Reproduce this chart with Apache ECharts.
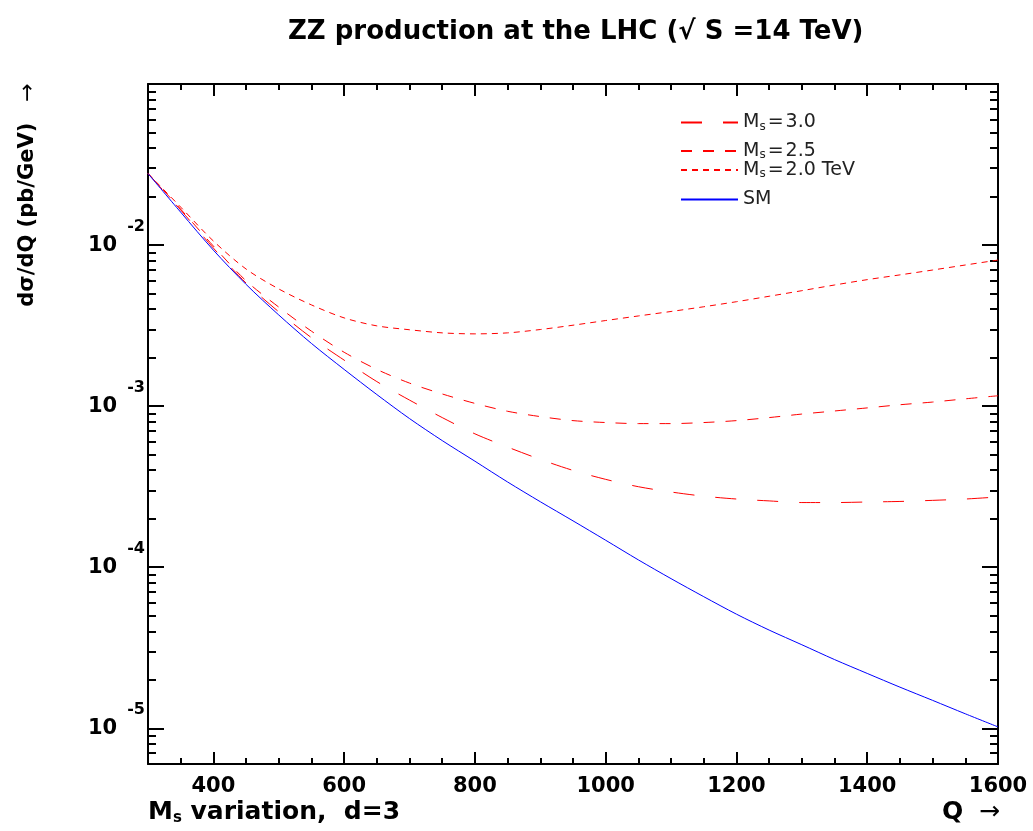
<!DOCTYPE html>
<html>
  <head>
    <title>ZZ production at the LHC</title>
    <meta charset="utf-8" />
    <script src="https://cdn.jsdelivr.net/npm/echarts@6.0.0/dist/echarts.min.js"></script>
    <style>
      body { margin: 0; background: #fff; }
    </style>
  </head>
  <body>
    <div id="main" style="width: 1033px;height:831px;"></div>
    <script type="text/javascript">
    // Q in GeV
    var qValues = [300, 350, 400, 450, 500, 550, 600, 650, 700, 750, 800, 850, 900, 950,
                   1000, 1050, 1100, 1150, 1200, 1250, 1300, 1350, 1400, 1450, 1500, 1550, 1600];

    // d(sigma)/dQ in pb/GeV
    var smValues = [0.0278, 0.0160, 9.3e-3, 5.7e-3, 3.68e-3, 2.45e-3, 1.69e-3, 1.18e-3, 8.37e-4,
                    6.11e-4, 4.55e-4, 3.38e-4, 2.55e-4, 1.94e-4, 1.47e-4, 1.11e-4, 8.49e-5, 6.56e-5,
                    5.11e-5, 4.07e-5, 3.30e-5, 2.67e-5, 2.19e-5, 1.80e-5, 1.49e-5, 1.23e-5, 1.02e-5];
    var ms30Values = [0.0278, 0.0165, 9.58e-3, 5.81e-3, 3.85e-3, 2.66e-3, 1.93e-3, 1.42e-3, 1.09e-3,
                      8.49e-4, 6.73e-4, 5.57e-4, 4.67e-4, 3.99e-4, 3.51e-4, 3.16e-4, 2.93e-4, 2.76e-4,
                      2.65e-4, 2.58e-4, 2.52e-4, 2.52e-4, 2.54e-4, 2.56e-4, 2.60e-4, 2.65e-4, 2.73e-4];
    var ms25Values = [0.0278, 0.0167, 9.86e-3, 6.0e-3, 4.12e-3, 2.92e-3, 2.16e-3, 1.69e-3, 1.39e-3,
                      1.19e-3, 1.04e-3, 9.29e-4, 8.61e-4, 8.13e-4, 7.91e-4, 7.79e-4, 7.79e-4, 7.91e-4,
                      8.13e-4, 8.49e-4, 8.93e-4, 9.33e-4, 9.75e-4, 1.02e-3, 1.06e-3, 1.11e-3, 1.16e-3];
    var ms20Values = [0.0278, 0.0172, 0.0106, 7.10e-3, 5.34e-3, 4.25e-3, 3.53e-3, 3.15e-3, 2.98e-3,
                      2.85e-3, 2.81e-3, 2.85e-3, 2.99e-3, 3.18e-3, 3.40e-3, 3.63e-3, 3.87e-3, 4.14e-3,
                      4.45e-3, 4.81e-3, 5.21e-3, 5.65e-3, 6.10e-3, 6.53e-3, 7.00e-3, 7.52e-3, 8.07e-3];

    var seriesNames = ['M_s=3.0', 'M_s=2.5', 'M_s=2.0 TeV', 'SM'];

    // ticks
    var xLabelTicks = [400, 600, 800, 1000, 1200, 1400, 1600];
    var xMajorTicks = [400, 600, 800, 1000, 1200, 1400, 1600];
    var xMinorTicks = [350, 450, 500, 550, 650, 700, 750, 850, 900, 950, 1050, 1100, 1150,
                       1250, 1300, 1350, 1450, 1500, 1550];
    var yMajorTicks = [1e-5, 1e-4, 1e-3, 1e-2];
    var yTickExponents = ['-5', '-4', '-3', '-2'];
    var yMinorTicks = [7e-6, 8e-6, 9e-6,
                       2e-5, 3e-5, 4e-5, 5e-5, 6e-5, 7e-5, 8e-5, 9e-5,
                       2e-4, 3e-4, 4e-4, 5e-4, 6e-4, 7e-4, 8e-4, 9e-4,
                       2e-3, 3e-3, 4e-3, 5e-3, 6e-3, 7e-3, 8e-3, 9e-3,
                       0.02, 0.03, 0.04, 0.05, 0.06, 0.07, 0.08, 0.09];

    var font = 'DejaVu Sans';
    var black = { color: '#000', width: 2 };

    function toPairs(values) {
      return qValues.map(function (q, i) { return [q, values[i]]; });
    }

    function xAxisDef(position, ticks, len, line, labels) {
      return {
        type: 'value', position: position, min: 300, max: 1600,
        axisLine: { show: line, onZero: false, lineStyle: black },
        axisTick: { show: true, inside: true, length: len, customValues: ticks, lineStyle: black },
        axisLabel: labels ? {
          show: true, customValues: xLabelTicks, margin: 12, color: '#000',
          fontFamily: font, fontWeight: 'bold', fontSize: 21,
          formatter: function (v) { return String(v); }
        } : { show: false },
        splitLine: { show: false }
      };
    }

    function yAxisDef(position, ticks, len, line, labels) {
      return {
        type: 'log', logBase: 10, position: position, min: 6e-6, max: 0.1,
        axisLine: { show: line, onZero: false, lineStyle: black },
        axisTick: { show: true, inside: true, length: len, customValues: ticks, lineStyle: black },
        axisLabel: labels ? {
          show: true, customValues: yMajorTicks, margin: 3, color: '#000',
          formatter: function (v) {
            var i = yMajorTicks.indexOf(v);
            if (i < 0) {
              i = Math.round(Math.log10(v)) + 5;
            }
            return '{b|10}{s|' + yTickExponents[i] + '}';
          },
          rich: {
            b: { fontFamily: font, fontWeight: 'bold', fontSize: 21, lineHeight: 52, color: '#000' },
            s: { fontFamily: font, fontWeight: 'bold', fontSize: 16, lineHeight: 16,
                 verticalAlign: 'top', padding: [0, 0, 0, 10], color: '#000' }
          }
        } : { show: false },
        splitLine: { show: false }
      };
    }

    function legendDef(name, top) {
      return {
        data: [name], left: 680, top: top, padding: 0, itemWidth: 57, itemHeight: 10,
        itemGap: 0, selectedMode: false,
        itemStyle: { opacity: 0 },
        formatter: function (n) {
          if (n === 'SM') return '{m|SM}';
          return '{m|M}{s|s}{e|=}{m|' + n.slice(4) + '}';
        },
        textStyle: {
          rich: {
            m: { fontFamily: font, fontSize: 19, lineHeight: 20, color: '#222' },
            e: { fontFamily: font, fontSize: 19, lineHeight: 20, color: '#222', padding: [0, 2, 0, 2] },
            s: { fontFamily: font, fontSize: 12, lineHeight: 12, verticalAlign: 'bottom', color: '#222' }
          }
        }
      };
    }

    var myChart = echarts.init(document.getElementById('main'));

    var option = {
      animation: false,
      backgroundColor: '#fff',
      title: {
        text: 'ZZ production at the LHC (\u221a S =14 TeV)',
        left: 283, top: 14,
        textStyle: { fontFamily: font, fontWeight: 'bold', fontSize: 26, color: '#000' }
      },
      grid: { left: 148, right: 35, top: 84, bottom: 67, outerBoundsMode: 'none' },
      legend: [
        legendDef(seriesNames[0], 113),
        legendDef(seriesNames[1], 141.5),
        legendDef(seriesNames[2], 160.5),
        legendDef(seriesNames[3], 190)
      ],
      xAxis: [
        xAxisDef('bottom', xMajorTicks, 12, true, true),
        xAxisDef('bottom', xMinorTicks, 6, false, false),
        xAxisDef('top', xMajorTicks, 12, true, false),
        xAxisDef('top', xMinorTicks, 6, false, false)
      ],
      yAxis: [
        yAxisDef('left', yMajorTicks, 16, true, true),
        yAxisDef('left', yMinorTicks, 8, false, false),
        yAxisDef('right', yMajorTicks, 16, true, false),
        yAxisDef('right', yMinorTicks, 8, false, false)
      ],
      graphic: [
        {
          type: 'text', x: 28, y: 195, rotation: Math.PI / 2,
          style: {
            text: '{t|d\u03c3/dQ (pb/GeV)}{a|   \u2192}',
            align: 'center', verticalAlign: 'middle', fill: '#000',
            rich: {
              t: { fontFamily: font, fontWeight: 'bold', fontSize: 21 },
              a: { fontFamily: font, fontSize: 22 }
            }
          }
        },
        {
          type: 'text', x: 148, y: 812,
          style: {
            text: '{b|M}{s|s}{b| variation,  d=3}',
            align: 'left', verticalAlign: 'middle', fill: '#000',
            rich: {
              b: { fontFamily: font, fontWeight: 'bold', fontSize: 25, lineHeight: 28 },
              s: { fontFamily: font, fontWeight: 'bold', fontSize: 15, lineHeight: 15, verticalAlign: 'bottom' }
            }
          }
        },
        {
          type: 'text', x: 1000, y: 812,
          style: {
            text: '{b|Q}{a|  \u2192}',
            align: 'right', verticalAlign: 'middle', fill: '#000',
            rich: {
              b: { fontFamily: font, fontWeight: 'bold', fontSize: 25 },
              a: { fontFamily: font, fontSize: 25 }
            }
          }
        }
      ],
      series: [
        {
          name: seriesNames[0], type: 'line', data: toPairs(ms30Values), symbol: 'none', smooth: 0.3,
          itemStyle: { color: '#ff0000' },
          lineStyle: { color: '#ff0000', width: 1, type: [21, 21] }
        },
        {
          name: seriesNames[1], type: 'line', data: toPairs(ms25Values), symbol: 'none', smooth: 0.3,
          itemStyle: { color: '#ff0000' },
          lineStyle: { color: '#ff0000', width: 1, type: [11, 11] }
        },
        {
          name: seriesNames[2], type: 'line', data: toPairs(ms20Values), symbol: 'none', smooth: 0.3,
          itemStyle: { color: '#ff0000' },
          lineStyle: { color: '#ff0000', width: 1, type: [6, 5] }
        },
        {
          name: seriesNames[3], type: 'line', data: toPairs(smValues), symbol: 'none', smooth: 0.3,
          itemStyle: { color: '#0000ff' },
          lineStyle: { color: '#0000ff', width: 1, type: 'solid' }
        }
      ]
    };

    myChart.setOption(option);
    </script>
  </body>
</html>
